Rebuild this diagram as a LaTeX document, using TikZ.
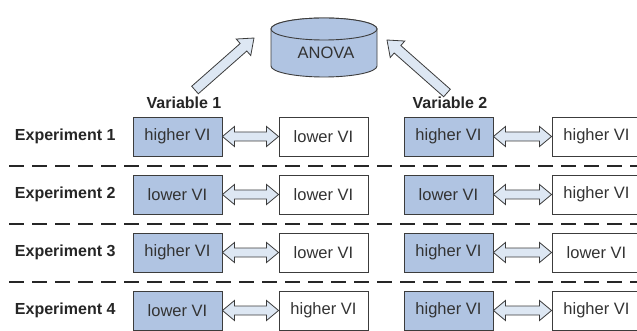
\documentclass[tikz,border=0pt]{standalone}
\usepackage{fontspec}
\setmainfont{Liberation Sans}
\usetikzlibrary{calc}
\definecolor{boxblue}{HTML}{B0C4E2}
\definecolor{arrowfill}{HTML}{DDE7F3}
\definecolor{edge}{HTML}{3C3C3C}
\tikzset{
  vibox/.style={draw=edge, line width=0.9pt, minimum width=89pt, minimum height=39pt, inner sep=0pt, font=\fontsize{16.5}{19}\selectfont, text=black!80},
  blue box/.style={vibox, fill=boxblue},
  white box/.style={vibox, fill=white},
  explabel/.style={anchor=east, font=\fontsize{16}{19}\selectfont\bfseries, text=black!85},
  varlabel/.style={font=\fontsize{16}{19}\selectfont\bfseries, text=black!85},
  sep/.style={line width=2.2pt, dash pattern=on 15pt off 8pt, black!85},
  blockarrow/.style={draw=edge, line width=0.8pt, fill=arrowfill, line join=miter}
}
% single block arrow from #1 to #2
\newcommand{\singleblock}[2]{%
  \path[blockarrow] let \p1=(#1), \p2=(#2), \n1={atan2(\y2-\y1,\x2-\x1)}, \n2={veclen(\x2-\x1,\y2-\y1)} in
    [shift={(\p1)}, rotate=\n1]
    (0pt,-5pt) -- ($(\n2,-5pt)-(14pt,0pt)$) -- ($(\n2,-11pt)-(14pt,0pt)$) -- (\n2,0pt)
    -- ($(\n2,11pt)-(14pt,0pt)$) -- ($(\n2,5pt)-(14pt,0pt)$) -- (0pt,5pt) -- cycle;}
% double block arrow between #1 and #2 (horizontal)
\newcommand{\doubleblock}[2]{%
  \path[blockarrow] let \p1=(#1), \p2=(#2), \n2={\x2-\x1} in
    (\x1,\y1) -- (\x1+12pt,\y1+10pt) -- (\x1+12pt,\y1+4.5pt) -- (\x2-12pt,\y1+4.5pt) -- (\x2-12pt,\y1+10pt)
    -- (\x2,\y1) -- (\x2-12pt,\y1-10pt) -- (\x2-12pt,\y1-4.5pt) -- (\x1+12pt,\y1-4.5pt) -- (\x1+12pt,\y1-10pt) -- cycle;}
\begin{document}
\begin{tikzpicture}[x=1pt,y=-1pt]
\useasboundingbox (0,0) rectangle (637,331);
% ANOVA cylinder
\path[draw=edge, line width=0.9pt, fill=boxblue]
  (271,29) -- (271,66) arc[start angle=180, end angle=360, x radius=53pt, y radius=11pt]
  -- (377,29) arc[start angle=0, end angle=180, x radius=53pt, y radius=11pt] -- cycle;
\draw[draw=edge, line width=0.9pt, fill=boxblue] (324,29) ellipse[x radius=53pt, y radius=11pt];
\node[font=\fontsize{16.5}{19}\selectfont, text=black!80] (anova) at (326,53) {ANOVA};
% arrows to ANOVA
\coordinate (t1) at (195,90);
\coordinate (h1) at (254,38);
\coordinate (t2) at (447,93);
\coordinate (h2) at (387,40);
\singleblock{t1}{h1}
\singleblock{t2}{h2}
% variable labels
\node[varlabel] (v1) at (184,103) {Variable 1};
\node[varlabel] (v2) at (450,103) {Variable 2};
% separators
\coordinate (s1a) at (9,166); \coordinate (s1b) at (637,166);
\coordinate (s2a) at (9,224); \coordinate (s2b) at (637,224);
\coordinate (s3a) at (9,282); \coordinate (s3b) at (637,282);
\draw[sep] (s1a) -- (s1b);
\draw[sep] (s2a) -- (s2b);
\draw[sep] (s3a) -- (s3b);
% rows
\foreach \r/\y/\a/\b/\c/\d in {1/136.5/higher VI/lower VI/higher VI/higher VI,
                               2/194.5/lower VI/lower VI/lower VI/higher VI,
                               3/252.5/higher VI/lower VI/higher VI/lower VI,
                               4/310.5/lower VI/higher VI/higher VI/higher VI}{
  \node[explabel] (e\r) at (119,\y) {Experiment \r};
  \node[blue box] (a\r) at (177.5,\y) {\a};
  \node[white box] (b\r) at (323.5,\y) {\b};
  \node[blue box] (c\r) at (448.5,\y) {\c};
  \node[white box] (d\r) at (596.5,\y) {\d};
  \doubleblock{a\r.east}{b\r.west}
  \doubleblock{c\r.east}{d\r.west}
}
\end{tikzpicture}
\end{document}
